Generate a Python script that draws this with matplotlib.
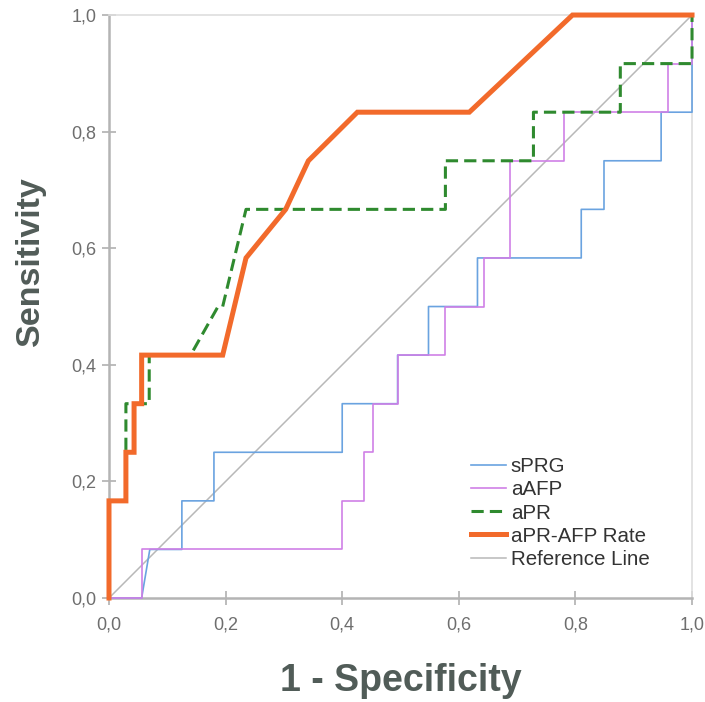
import matplotlib
matplotlib.use("Agg")
import matplotlib.pyplot as plt
from matplotlib.ticker import FuncFormatter

# ROC curves (1 - specificity, sensitivity)
sprg_fpr = [0, 0.056, 0.07, 0.125, 0.125, 0.18, 0.18, 0.4, 0.4, 0.495, 0.495, 0.548, 0.548,
            0.632, 0.632, 0.81, 0.81, 0.849, 0.849, 0.947, 0.947, 1.0, 1.0]
sprg_tpr = [0, 0, 1/12, 1/12, 2/12, 2/12, 3/12, 3/12, 4/12, 4/12, 5/12, 5/12, 6/12,
            6/12, 7/12, 7/12, 8/12, 8/12, 9/12, 9/12, 10/12, 10/12, 1.0]

aafp_fpr = [0, 0.056, 0.056, 0.4, 0.4, 0.438, 0.438, 0.453, 0.453, 0.495, 0.495, 0.577, 0.577,
            0.644, 0.644, 0.687, 0.687, 0.781, 0.781, 0.959, 0.959, 1.0, 1.0]
aafp_tpr = [0, 0, 1/12, 1/12, 2/12, 2/12, 3/12, 3/12, 4/12, 4/12, 5/12, 5/12, 6/12,
            6/12, 7/12, 7/12, 9/12, 9/12, 10/12, 10/12, 11/12, 11/12, 1.0]

apr_fpr = [0, 0, 0.029, 0.029, 0.069, 0.069, 0.14, 0.187, 0.195, 0.235, 0.577, 0.577,
           0.728, 0.728, 0.877, 0.877, 1.0, 1.0]
apr_tpr = [0, 2/12, 2/12, 4/12, 4/12, 5/12, 5/12, 6/12, 6/12, 8/12, 8/12, 9/12,
           9/12, 10/12, 10/12, 11/12, 11/12, 1.0]

rate_fpr = [0, 0, 0.029, 0.029, 0.043, 0.043, 0.056, 0.056, 0.195, 0.235, 0.303, 0.342,
            0.426, 0.618, 0.795, 1.0]
rate_tpr = [0, 2/12, 2/12, 3/12, 3/12, 4/12, 4/12, 5/12, 5/12, 7/12, 8/12, 9/12,
            10/12, 10/12, 1.0, 1.0]

ticks = [0.0, 0.2, 0.4, 0.6, 0.8, 1.0]

fig = plt.figure(figsize=(7.05, 7.02), dpi=100)
ax = fig.add_axes([0.1546, 0.1481, 0.8270, 0.8305])

ax.plot([0, 1], [0, 1], color="#b8b8b8", lw=1.1, label="Reference Line", zorder=2, clip_on=False)
ax.plot(sprg_fpr, sprg_tpr, color="#6aa3e0", lw=1.2, label="sPRG", zorder=3, clip_on=False)
ax.plot(aafp_fpr, aafp_tpr, color="#cf80e6", lw=1.2, label="aAFP", zorder=4, clip_on=False)
ax.plot(apr_fpr, apr_tpr, color="#2f8a2f", lw=2.2, ls=(0, (4, 2)), label="aPR", zorder=5, clip_on=False)
ax.plot(rate_fpr, rate_tpr, color="#f26a2b", lw=3.6, label="aPR-AFP Rate", zorder=6,
        solid_joinstyle="miter", clip_on=False)

ax.set_xlim(0, 1)
ax.set_ylim(0, 1)
ax.set_xticks(ticks)
ax.set_yticks(ticks)
fmt = FuncFormatter(lambda v, p: f"{v:.1f}".replace(".", ","))
ax.xaxis.set_major_formatter(fmt)
ax.yaxis.set_major_formatter(fmt)
ax.tick_params(direction="inout", length=10, width=1.2, color="#b0b0b0",
               labelcolor="#6e6e6e", labelsize=13, pad=4)
ax.tick_params(axis="x", pad=8.5)
for lab in ax.get_xticklabels() + ax.get_yticklabels():
    lab.set_family("Liberation Sans")

for side in ["left", "bottom"]:
    ax.spines[side].set_color("#b4b4b4")
    ax.spines[side].set_linewidth(1.8)
for side in ["top", "right"]:
    ax.spines[side].set_color("#dedede")
    ax.spines[side].set_linewidth(1.2)

lab_font = dict(family="Liberation Sans", weight="bold", color="#515c58")
ax.set_xlabel("1 - Specificity", size=27, **lab_font)
ax.set_ylabel("Sensitivity", size=24.5, **lab_font)
ax.xaxis.set_label_coords(0.5, -0.112)
ax.yaxis.set_label_coords(-0.108, 0.578)

handles, labels = ax.get_legend_handles_labels()
order = [1, 2, 3, 4, 0]
leg = ax.legend([handles[i] for i in order], [labels[i] for i in order],
                loc="upper left", bbox_to_anchor=(0.603, 0.259), frameon=False,
                prop={"family": "Liberation Sans", "size": 14.8},
                handlelength=1.7, handletextpad=0.25, labelspacing=0.2, borderpad=0)
for t in leg.get_texts():
    t.set_color("#333333")

fig.savefig("out.png", dpi=100)
